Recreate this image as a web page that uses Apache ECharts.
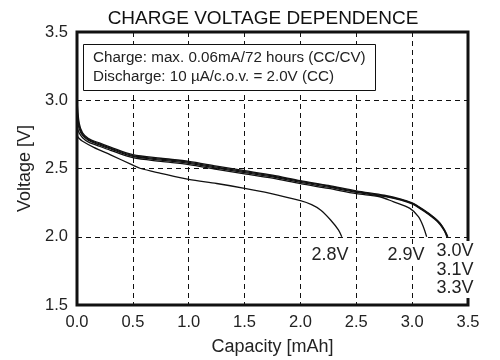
<!DOCTYPE html>
<html>
<head>
<meta charset="utf-8">
<script src="https://cdn.jsdelivr.net/npm/echarts@6/dist/echarts.min.js"></script>
<style>html,body{margin:0;padding:0;background:#fff}#c{width:500px;height:360px}</style>
</head>
<body>
<div id="c"></div>
<script>
var titleText = 'CHARGE VOLTAGE DEPENDENCE';
var xName = 'Capacity [mAh]';
var yName = 'Voltage [V]';
var noteLines = ['Charge: max. 0.06mA/72 hours (CC/CV)', 'Discharge: 10 \u00b5A/c.o.v. = 2.0V (CC)'];
var seriesNames = ['2.8V', '2.9V', '3.0V', '3.1V', '3.3V'];

var cap28 = [0, 0.02, 0.05, 0.15, 0.3, 0.5, 0.57, 0.75, 1.0, 1.25, 1.5, 1.72, 2.0, 2.1, 2.18, 2.27, 2.34, 2.37];
var volt28 = [2.74, 2.72, 2.70, 2.655, 2.60, 2.525, 2.50, 2.465, 2.42, 2.39, 2.355, 2.32, 2.264, 2.235, 2.196, 2.123, 2.05, 2.0];

var cap29 = [0, 0.02, 0.05, 0.1, 0.2, 0.3, 0.5, 0.75, 1.0, 1.25, 1.5, 1.75, 2.0, 2.25, 2.5, 2.71, 2.83, 2.98, 3.056, 3.10, 3.13];
var volt29 = [2.80, 2.76, 2.725, 2.695, 2.663, 2.633, 2.579, 2.552, 2.529, 2.494, 2.461, 2.429, 2.389, 2.354, 2.316, 2.293, 2.257, 2.208, 2.147, 2.074, 2.0];

var cap30 = [0, 0.02, 0.05, 0.1, 0.2, 0.3, 0.5, 0.75, 1.0, 1.25, 1.5, 1.75, 2.0, 2.25, 2.5, 2.75, 2.9, 3.0, 3.1, 3.2, 3.25, 3.29, 3.31];
var volt30 = [2.88, 2.79, 2.742, 2.708, 2.673, 2.643, 2.588, 2.561, 2.538, 2.503, 2.470, 2.438, 2.398, 2.363, 2.325, 2.295, 2.268, 2.24, 2.19, 2.13, 2.09, 2.04, 2.0];

var cap31 = [0, 0.02, 0.05, 0.1, 0.2, 0.3, 0.5, 0.75, 1.0, 1.25, 1.5, 1.75, 2.0, 2.25, 2.5, 2.75, 2.9, 3.0, 3.1, 3.2, 3.25, 3.29, 3.315];
var volt31 = [2.94, 2.81, 2.752, 2.715, 2.680, 2.650, 2.595, 2.568, 2.545, 2.510, 2.477, 2.445, 2.405, 2.370, 2.331, 2.300, 2.272, 2.244, 2.195, 2.135, 2.095, 2.045, 2.0];

var cap33 = [0, 0.02, 0.05, 0.1, 0.2, 0.3, 0.5, 0.75, 1.0, 1.25, 1.5, 1.75, 2.0, 2.25, 2.5, 2.75, 2.9, 3.0, 3.1, 3.2, 3.25, 3.29, 3.32];
var volt33 = [3.00, 2.83, 2.762, 2.722, 2.687, 2.657, 2.602, 2.575, 2.552, 2.517, 2.484, 2.451, 2.411, 2.376, 2.336, 2.304, 2.276, 2.248, 2.199, 2.14, 2.10, 2.05, 2.0];

var xTicks = [0, 3.5, 0.5];
var yTicks = [1.5, 3.5, 0.5];

function pairs(xs, ys) { return xs.map(function (x, i) { return [x, ys[i]]; }); }
var allCaps = [cap28, cap29, cap30, cap31, cap33];
var allVolts = [volt28, volt29, volt30, volt31, volt33];

var chart = echarts.init(document.getElementById('c'), null, { renderer: 'canvas' });
var font = 'Liberation Sans, Arial, sans-serif';
var series = seriesNames.map(function (n, i) {
  return {
    name: n, type: 'line', showSymbol: false, symbol: 'none', smooth: 0.3,
    data: pairs(allCaps[i], allVolts[i]),
    lineStyle: { color: '#111', width: 1.3 },
    animation: false
  };
});

function lbl(text, x, y) {
  return { type: 'text', x: x, y: y, z: 20, style: { text: text, font: '18px ' + font, fill: '#222', align: 'center', verticalAlign: 'middle', backgroundColor: '#fff', padding: [1, 2, 1, 2] } };
}

chart.setOption({
  animation: false,
  title: {
    text: titleText, left: 258, top: 4, textAlign: 'center',
    textStyle: { fontFamily: font, fontSize: 19, fontWeight: 'normal', color: '#111' }
  },
  grid: { left: 77, right: 32, top: 32, bottom: 55, outerBoundsMode: 'none', containLabel: false, show: true, borderWidth: 3, borderColor: '#111', backgroundColor: 'transparent' },
  xAxis: {
    type: 'value', min: xTicks[0], max: xTicks[1], interval: xTicks[2],
    name: xName, nameLocation: 'middle', nameGap: 33,
    nameTextStyle: { fontFamily: font, fontSize: 18, color: '#222' },
    axisLine: { show: false }, axisTick: { show: false },
    axisLabel: { fontFamily: font, fontSize: 16.5, color: '#222', margin: 9, formatter: function (v) { return v.toFixed(1); } },
    splitLine: { show: true, lineStyle: { type: [5, 4], color: '#111', width: 1 } }
  },
  yAxis: {
    type: 'value', min: yTicks[0], max: yTicks[1], interval: yTicks[2],
    name: yName, nameLocation: 'middle', nameGap: 43,
    nameTextStyle: { fontFamily: font, fontSize: 18, color: '#222' },
    axisLine: { show: false }, axisTick: { show: false },
    axisLabel: { fontFamily: font, fontSize: 16.5, color: '#222', margin: 9, formatter: function (v) { return v.toFixed(1); } },
    splitLine: { show: true, lineStyle: { type: [5, 4], color: '#111', width: 1 } }
  },
  series: series,
  graphic: [
    { type: 'rect', shape: { x: 83.5, y: 44.5, width: 292, height: 46 }, style: { fill: '#fff', stroke: '#111', lineWidth: 1 }, z: 10 },
    { type: 'text', left: 93, top: 50, z: 11, style: { text: noteLines[0], font: '15.2px ' + font, fill: '#222' } },
    { type: 'text', left: 93, top: 69, z: 11, style: { text: noteLines[1], font: '15.2px ' + font, fill: '#222' } },
    lbl(seriesNames[0], 330, 255),
    lbl(seriesNames[1], 406, 255),
    lbl(seriesNames[2], 455, 251),
    lbl(seriesNames[3], 455, 270),
    lbl(seriesNames[4], 455, 288)
  ]
});
</script>
</body>
</html>
